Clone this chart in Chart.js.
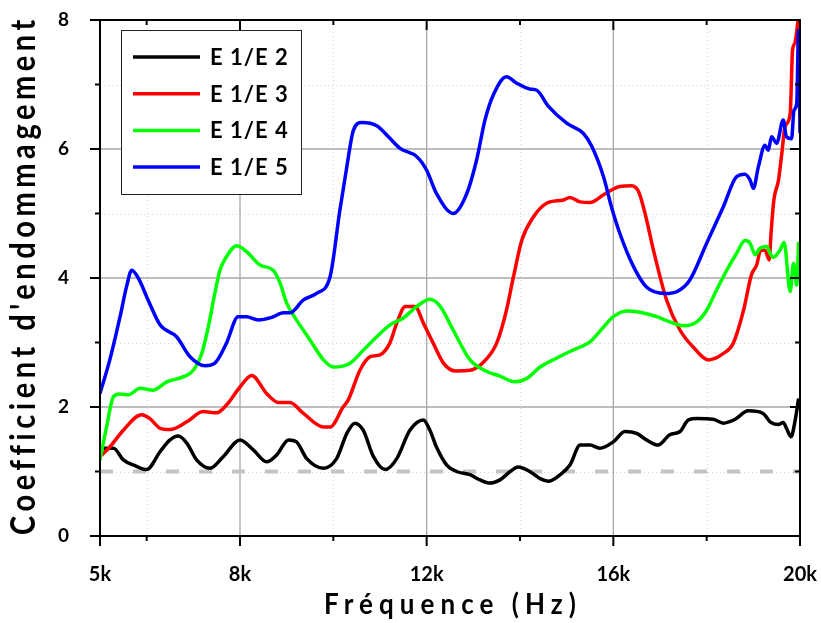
<!DOCTYPE html>
<html>
<head>
<meta charset="utf-8">
<script src="https://cdn.jsdelivr.net/npm/chart.js@4.4.1/dist/chart.umd.min.js"></script>
<style>
  body { margin: 0; background: #fff; }
  canvas { display: block; }
</style>
</head>
<body>
<canvas id="damageChart" width="821" height="623"></canvas>
<script>
// tick values (kHz / coefficient)
var xLabelled = [5, 8, 12, 16, 20];
var xMajor = [8, 12, 16];
var xMinor = [6, 10, 14, 18];
var yMajor = [2, 4, 6];
var yMinor = [1, 3, 5, 7];

var seriesLabels = ['E 1/E 2', 'E 1/E 3', 'E 1/E 4', 'E 1/E 5'];

// E1/E2 (black)
var e12Freq = [5.0, 5.29, 5.5, 5.75, 6.0, 6.29, 6.5, 6.68, 6.86, 7.07, 7.36, 7.64, 8.0, 8.29, 8.57, 8.79, 9.04, 9.21, 9.43, 9.79,
               10.07, 10.29, 10.46, 10.64, 10.86, 11.11, 11.36, 11.64, 11.93, 12.07, 12.21, 12.43, 12.64, 12.93, 13.14, 13.36, 13.57, 13.79, 13.96,
               14.21, 14.43, 14.61, 14.86, 15.07, 15.29, 15.5, 15.71, 16.0, 16.25, 16.5, 16.71, 16.96, 17.21, 17.43, 17.61, 17.79,
               18.14, 18.36, 18.61, 18.89, 19.21, 19.36, 19.54, 19.64, 19.71, 19.81, 19.89, 19.97];
var e12Vals = [1.36, 1.36, 1.18, 1.09, 1.03, 1.31, 1.49, 1.55, 1.44, 1.18, 1.05, 1.23, 1.49, 1.33, 1.15, 1.26, 1.49, 1.46, 1.20, 1.05,
               1.20, 1.59, 1.75, 1.64, 1.23, 1.03, 1.20, 1.64, 1.80, 1.64, 1.38, 1.10, 1.00, 0.95, 0.87, 0.82, 0.87, 1.00, 1.07,
               1.00, 0.89, 0.85, 0.95, 1.10, 1.41, 1.41, 1.36, 1.46, 1.62, 1.59, 1.49, 1.41, 1.57, 1.62, 1.80, 1.82,
               1.81, 1.75, 1.81, 1.94, 1.90, 1.77, 1.73, 1.76, 1.67, 1.54, 1.77, 2.13];

// E1/E3 (red)
var e13Freq = [5.0, 5.21, 5.5, 5.89, 6.07, 6.29, 6.5, 6.86, 7.21, 7.5, 7.71, 8.0, 8.25, 8.57, 8.82, 9.07, 9.36, 9.79, 9.93,
               10.21, 10.32, 10.57, 10.79, 11.0, 11.21, 11.36, 11.54, 11.75, 11.93, 12.14, 12.36, 12.61, 12.93, 13.21, 13.5, 13.71, 13.86,
               14.04, 14.29, 14.57, 14.93, 15.07, 15.29, 15.5, 15.79, 16.14, 16.39, 16.54, 16.68, 16.86, 17.14, 17.43, 17.71,
               18.04, 18.36, 18.57, 18.79, 18.96, 19.07, 19.16, 19.25, 19.34, 19.38, 19.44, 19.54, 19.61, 19.68, 19.79, 19.84, 19.89, 19.96];
var e13Vals = [1.23, 1.38, 1.64, 1.88, 1.82, 1.67, 1.65, 1.77, 1.93, 1.91, 2.03, 2.31, 2.49, 2.21, 2.07, 2.07, 1.90, 1.69, 1.69,
               2.00, 2.11, 2.57, 2.78, 2.81, 2.99, 3.30, 3.56, 3.56, 3.30, 2.99, 2.68, 2.56, 2.57, 2.69, 2.99, 3.50, 4.02,
               4.59, 4.95, 5.16, 5.21, 5.25, 5.18, 5.17, 5.29, 5.42, 5.43, 5.34, 5.00, 4.43, 3.66, 3.19, 2.93,
               2.73, 2.83, 2.99, 3.50, 4.05, 4.20, 4.43, 4.43, 4.28, 4.70, 5.21, 5.52, 5.93, 6.35, 6.55, 7.53, 7.64, 8.0];

// E1/E4 (green)
var e14Freq = [5.0, 5.14, 5.29, 5.43, 5.61, 5.86, 6.14, 6.43, 6.79, 7.0, 7.18, 7.32, 7.46, 7.57, 7.71, 7.93, 8.14, 8.43, 8.71, 8.86,
               9.0, 9.21, 9.5, 9.79, 10.0, 10.36, 10.64, 10.93, 11.21, 11.5, 11.79, 12.07, 12.29, 12.57, 12.93, 13.29, 13.57, 13.89,
               14.14, 14.43, 14.79, 15.07, 15.29, 15.5, 15.79, 16.0, 16.29, 16.57, 16.93, 17.21, 17.5, 17.79,
               18.0, 18.21, 18.43, 18.64, 18.82, 18.93, 19.04, 19.14, 19.29, 19.36, 19.43, 19.57, 19.66, 19.79, 19.86, 19.93, 19.97];
var e14Vals = [1.18, 1.69, 2.16, 2.20, 2.19, 2.29, 2.26, 2.39, 2.47, 2.57, 2.83, 3.24, 3.76, 4.12, 4.33, 4.50, 4.41, 4.20, 4.12, 3.92,
               3.61, 3.35, 3.04, 2.73, 2.62, 2.68, 2.88, 3.09, 3.27, 3.38, 3.56, 3.67, 3.56, 3.19, 2.73, 2.55, 2.48, 2.39,
               2.44, 2.62, 2.76, 2.86, 2.93, 3.01, 3.24, 3.40, 3.49, 3.47, 3.40, 3.32, 3.26, 3.32,
               3.50, 3.81, 4.12, 4.38, 4.58, 4.54, 4.36, 4.46, 4.49, 4.38, 4.32, 4.43, 4.55, 3.79, 4.23, 3.89, 4.56];

// E1/E5 (blue)
var e15Freq = [5.0, 5.21, 5.43, 5.57, 5.68, 5.82, 6.03, 6.29, 6.64, 6.93, 7.25, 7.46, 7.71, 7.96, 8.14, 8.39, 8.68, 8.93, 9.07, 9.36, 9.64, 9.93,
               10.14, 10.29, 10.43, 10.61, 10.93, 11.18, 11.43, 11.79, 12.0, 12.21, 12.57, 12.86, 13.07, 13.25, 13.43, 13.71, 13.93,
               14.21, 14.36, 14.61, 15.0, 15.36, 15.54, 15.79, 15.96, 16.14, 16.43, 16.71, 17.11, 17.39, 17.64,
               18.0, 18.36, 18.64, 18.82, 18.93, 19.0, 19.11, 19.25, 19.32, 19.39, 19.5, 19.64, 19.71, 19.82, 19.87, 19.93, 19.97, 20.0];
var e15Vals = [2.21, 2.73, 3.40, 3.87, 4.12, 4.00, 3.66, 3.27, 3.09, 2.78, 2.64, 2.68, 2.99, 3.40, 3.40, 3.35, 3.39, 3.46, 3.46, 3.66, 3.76, 4.02,
               5.05, 5.73, 6.29, 6.41, 6.36, 6.19, 6.01, 5.88, 5.67, 5.31, 5.00, 5.31, 5.83, 6.45, 6.84, 7.12, 7.02,
               6.93, 6.91, 6.66, 6.40, 6.24, 6.04, 5.57, 5.10, 4.69, 4.18, 3.86, 3.76, 3.80, 3.97,
               4.54, 5.11, 5.57, 5.61, 5.52, 5.39, 5.73, 6.06, 5.98, 6.19, 6.09, 6.45, 6.19, 6.16, 6.60, 6.71, 7.84, 6.25];

// reference level
var refFreq = [5, 20];
var refVals = [1, 1];

function toPoints(xs, ys) {
     return xs.map(function(x, i){ return {x: x, y: ys[i]}; });
}

function curve(label, xs, ys, color, order) {
     return {
          label: label,
          data: toPoints(xs, ys),
          borderColor: color,
          borderWidth: 3.5,
          pointRadius: 0,
          fill: false,
          cubicInterpolationMode: 'monotone',
          order: order
     };
}

// letter-spaced bold text, centred on cx, stretched across the baseline
function spacedText(ctx, text, cx, baseY, span, font, rotate, stretch) {
     ctx.save();
     ctx.font = font;
     ctx.letterSpacing = '0px';
     var w0 = ctx.measureText(text).width;
     var gap = (span - w0) / (text.length - 1);
     ctx.letterSpacing = gap + 'px';
     ctx.translate(cx, baseY);
     if (rotate) ctx.rotate(-Math.PI / 2);
     ctx.scale(1, stretch);
     ctx.textAlign = 'left';
     ctx.textBaseline = 'alphabetic';
     ctx.fillStyle = '#000';
     ctx.fillText(text, -span / 2, 0);
     ctx.restore();
}

const framePlugin = {
     id: 'frame',
     beforeDatasetsDraw(chart) {
          const ctx = chart.ctx, a = chart.chartArea, x = chart.scales.x, y = chart.scales.y;
          ctx.save();
          // dotted minor grid
          ctx.strokeStyle = '#d4d4d4';
          ctx.lineWidth = 1;
          ctx.setLineDash([1, 3]);
          xMinor.forEach(function(v){
               var px = Math.round(x.getPixelForValue(v)) + 0.5;
               ctx.beginPath(); ctx.moveTo(px, a.top); ctx.lineTo(px, a.bottom); ctx.stroke();
          });
          yMinor.forEach(function(v){
               var py = Math.round(y.getPixelForValue(v)) + 0.5;
               ctx.beginPath(); ctx.moveTo(a.left, py); ctx.lineTo(a.right, py); ctx.stroke();
          });
          // solid major grid
          ctx.setLineDash([]);
          ctx.strokeStyle = '#a8a8a8';
          ctx.lineWidth = 1.3;
          xMajor.forEach(function(v){
               var px = x.getPixelForValue(v);
               ctx.beginPath(); ctx.moveTo(px, a.top); ctx.lineTo(px, a.bottom); ctx.stroke();
          });
          yMajor.forEach(function(v){
               var py = y.getPixelForValue(v);
               ctx.beginPath(); ctx.moveTo(a.left, py); ctx.lineTo(a.right, py); ctx.stroke();
          });
          ctx.restore();
     },
     afterDatasetsDraw(chart) {
          const ctx = chart.ctx, a = chart.chartArea, x = chart.scales.x, y = chart.scales.y;
          ctx.save();
          ctx.strokeStyle = '#000';
          ctx.lineWidth = 2;
          ctx.strokeRect(a.left, a.top, a.right - a.left, a.bottom - a.top);

          function tickX(v, len) {
               var px = x.getPixelForValue(v);
               ctx.beginPath(); ctx.moveTo(px, a.bottom); ctx.lineTo(px, a.bottom + len); ctx.stroke();
               ctx.beginPath(); ctx.moveTo(px, a.top); ctx.lineTo(px, a.top + len); ctx.stroke();
          }
          function tickY(v, len) {
               var py = y.getPixelForValue(v);
               ctx.beginPath(); ctx.moveTo(a.left, py); ctx.lineTo(a.left - len, py); ctx.stroke();
               ctx.beginPath(); ctx.moveTo(a.right, py); ctx.lineTo(a.right - len, py); ctx.stroke();
          }
          xLabelled.forEach(function(v){ tickX(v, 10); });
          xMinor.forEach(function(v){ tickX(v, 5); });
          [0, 2, 4, 6, 8].forEach(function(v){ tickY(v, 10); });
          yMinor.forEach(function(v){ tickY(v, 5); });
          ctx.restore();
     },
     afterDraw(chart) {
          const ctx = chart.ctx;
          // axis titles
          spacedText(ctx, "Coefficient d'endommagement", 35, 278, 514, 'bold 29px Lato', true, 1.2);
          spacedText(ctx, 'Fréquence (Hz)', 450, 614, 252, 'bold 26px Lato', false, 1.1);

          // legend box
          ctx.save();
          ctx.fillStyle = '#fff';
          ctx.fillRect(121, 30, 180, 164);
          ctx.strokeStyle = '#222';
          ctx.lineWidth = 1;
          ctx.strokeRect(121.5, 30.5, 180, 164);
          ctx.font = 'bold 22px Lato';
          ctx.letterSpacing = '1px';
          ctx.textBaseline = 'middle';
          ctx.fillStyle = '#000';
          var rows = chart.data.datasets.filter(function(d){ return seriesLabels.indexOf(d.label) >= 0; });
          rows.forEach(function(d, i){
               var ry = 57 + i * 36.7;
               ctx.strokeStyle = d.borderColor;
               ctx.lineWidth = 3.5;
               ctx.beginPath(); ctx.moveTo(133, ry); ctx.lineTo(200, ry); ctx.stroke();
               ctx.fillText(d.label, 210, ry + 1);
          });
          ctx.restore();
     }
};

const ctx = document.getElementById('damageChart').getContext('2d');

new Chart(ctx, {
     type: 'line',
     data: {
          datasets: [
               curve(seriesLabels[0], e12Freq, e12Vals, '#000000', 4),
               curve(seriesLabels[1], e13Freq, e13Vals, '#ff0000', 3),
               curve(seriesLabels[2], e14Freq, e14Vals, '#00ff00', 2),
               curve(seriesLabels[3], e15Freq, e15Vals, '#0000ff', 1),
               {
                    label: 'ref',
                    data: toPoints(refFreq, refVals),
                    borderColor: '#c4c4c4',
                    borderWidth: 4,
                    borderDash: [13, 20],
                    pointRadius: 0,
                    fill: false,
                    order: 5
               }
          ]
     },
     options: {
          responsive: false,
          animation: false,
          devicePixelRatio: 1,
          layout: { padding: { top: 20, right: 21, left: 0, bottom: 0 } },
          plugins: {
               legend: false,
               tooltip: { enabled: false }
          },
          scales: {
               x: {
                    type: 'linear',
                    min: 5,
                    max: 20,
                    grid: { display: false },
                    border: { display: false },
                    ticks: {
                         stepSize: 1,
                         autoSkip: false,
                         maxRotation: 0,
                         padding: 19,
                         color: '#000',
                         font: { family: 'Lato', weight: 'bold', size: 20 },
                         callback: function(v){ return xLabelled.indexOf(v) >= 0 ? v + 'k' : ''; }
                    },
                    afterFit: function(s){
                         s.height = 87;
                         s.paddingLeft = 0;
                         s.paddingRight = 0;
                    }
               },
               y: {
                    min: 0,
                    max: 8,
                    grid: { display: false },
                    border: { display: false },
                    ticks: {
                         stepSize: 2,
                         padding: 23,
                         color: '#000',
                         font: { family: 'Lato', weight: 'bold', size: 19 }
                    },
                    afterFit: function(s){
                         s.width = 100;
                         s.paddingTop = 0;
                         s.paddingBottom = 0;
                    }
               }
          }
     },
     plugins: [framePlugin]
});
</script>
</body>
</html>
